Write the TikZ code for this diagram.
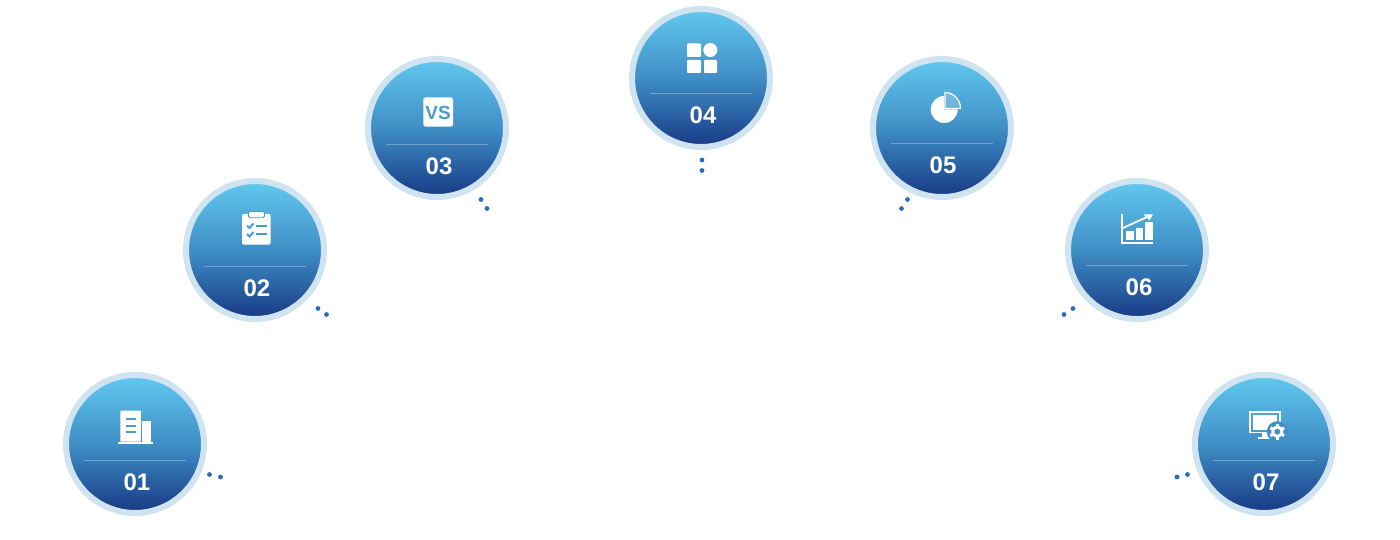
\documentclass[tikz,border=0pt]{standalone}
\usepackage{xcolor}
\usepackage{fontspec}
\setmainfont{Liberation Sans}
\definecolor{ringblue}{HTML}{D0E3F0}
\definecolor{topblue}{HTML}{62C9EF}
\definecolor{midblue}{HTML}{3F8EC6}
\definecolor{lowblue}{HTML}{173984}
\definecolor{iconblue}{HTML}{4A9BD0}
\definecolor{dotblue}{HTML}{2A6BBE}
\tikzset{
  disc/.style={circle, draw=ringblue, line width=6pt, minimum size=138pt, inner sep=0pt,
    top color=topblue, bottom color=lowblue, middle color=midblue},
  num/.style={text=white, font=\fontsize{24}{24}\selectfont\bfseries, inner sep=0pt},
  dot/.style={circle, fill=dotblue, minimum size=4.8pt, inner sep=0pt},
  divider/.style={white, opacity=0.3, line width=1pt},
  icon/.style={fill=white, draw=none},
  iconline/.style={draw=white, line width=1.8pt},
  cut/.style={draw=iconblue, line width=2pt}
}
\begin{document}
\begin{tikzpicture}[x=1pt, y=-1pt]
    \useasboundingbox (0,0) rectangle (1400,540);

    \node[disc](c1) at ( 135,444) {};
    \node[disc](c2) at ( 255,250) {};
    \node[disc](c3) at ( 437,128) {};
    \node[disc](c4) at ( 701, 78) {};
    \node[disc](c5) at ( 942,128) {};
    \node[disc](c6) at (1137,250) {};
    \node[disc](c7) at (1264,444) {};

    \node[num](n1) at ( 137,482) {01};
    \node[num](n2) at ( 257,288) {02};
    \node[num](n3) at ( 439,166) {03};
    \node[num](n4) at ( 703,115) {04};
    \node[num](n5) at ( 943,165) {05};
    \node[num](n6) at (1139,287) {06};
    \node[num](n7) at (1266,482) {07};

    \draw[divider] (84,460.5) -- (186,460.5);
    \draw[divider] (204,266.5) -- (306,266.5);
    \draw[divider] (386,144.5) -- (488,144.5);
    \draw[divider] (650,93.5) -- (752,93.5);
    \draw[divider] (891,143.5) -- (993,143.5);
    \draw[divider] (1086,265.5) -- (1188,265.5);
    \draw[divider] (1213,460.5) -- (1315,460.5);

    \node[dot](d1a) at ( 209.5,474.5) {};
    \node[dot](d1b) at ( 220.5,477) {};
    \node[dot](d2a) at ( 318,308.5) {};
    \node[dot](d2b) at ( 326.5,314.5) {};
    \node[dot](d3a) at ( 481,199.5) {};
    \node[dot](d3b) at ( 487,208.5) {};
    \node[dot](d4a) at ( 702,160) {};
    \node[dot](d4b) at ( 702,170.5) {};
    \node[dot](d5a) at ( 907.5,199.5) {};
    \node[dot](d5b) at ( 901.5,208.5) {};
    \node[dot](d6a) at (1073,308.5) {};
    \node[dot](d6b) at (1064,314.5) {};
    \node[dot](d7a) at (1187.5,474.5) {};
    \node[dot](d7b) at (1177,477) {};

    % 01 building
    \fill[icon, rounded corners=0.8pt] (120.3,441.7) rectangle (140.8,410.7);
    \fill[icon] (142.3,441.7) rectangle (151,420.7);
    \fill[icon] (118,441.7) rectangle (153,444);
    \draw[cut] (126,419.3) -- (136,419.3);
    \draw[cut] (126,425.7) -- (136,425.7);
    \draw[cut] (126,431.7) -- (136,431.7);

    % 02 clipboard
    \fill[icon, rounded corners=2pt] (242,214) rectangle (270.7,244.7);
    \fill[icon, draw=iconblue, line width=0.8pt, rounded corners=1.5pt] (248.5,211.5) rectangle (264.5,217.8);
    \draw[cut] (247,225.5) -- (249.5,228) -- (253.5,223.5);
    \draw[cut] (247,234) -- (249.5,236.5) -- (253.5,232);
    \draw[cut] (256,225.7) -- (266.5,225.7);
    \draw[cut] (256,234.3) -- (266.5,234.3);

    % 03 vs
    \fill[icon, rounded corners=2.5pt] (423.3,97.3) rectangle (453,126.7);
    \node[text=iconblue, inner sep=0pt, font=\fontsize{19}{19}\selectfont\bfseries](vs) at (438,112.5) {VS};

    % 04 blocks
    \fill[icon, rounded corners=0.8pt] (687,43.5) rectangle (701,57);
    \fill[icon] (710.3,50) circle (7);
    \fill[icon, rounded corners=0.8pt] (687,60) rectangle (701,73);
    \fill[icon, rounded corners=0.8pt] (704,60) rectangle (717,73);

    % 05 pie
    \fill[icon] (944.2,109.5) -- (957.7,109.5) arc[start angle=0, end angle=-270, radius=13.5pt] -- cycle;
    \draw[iconline, line width=1.2pt, fill=white, fill opacity=0.2, line join=round]
      (945,108.5) -- (945,92.5) .. controls (954,92.5) and (960.5,100) .. (960.5,108.5) -- cycle;

    % 06 chart
    \draw[iconline] (1122.3,214) -- (1122.3,242.6) -- (1153,242.6);
    \fill[icon] (1125.7,231) rectangle (1134,240);
    \fill[icon] (1135.7,227.7) rectangle (1143.3,240);
    \fill[icon] (1145,222) rectangle (1153.3,240);
    \draw[iconline] (1123,228) -- (1147,217);
    \fill[icon] (1153,214.3) -- (1143.5,214.3) -- (1149.5,220.5) -- cycle;

    % 07 monitor with gear
    \draw[iconline] (1249.9,411.9) rectangle (1279.8,432.5);
    \fill[icon] (1252.5,414.5) rectangle (1277,430);
    \fill[icon] (1261.7,433) rectangle (1268.3,437);
    \fill[icon] (1257.7,437) rectangle (1272.3,439);
    \fill[midblue] (1277.3,431.7) circle (10.5);
    \fill[icon] (1277.3,431.7) circle (6);
    \draw[white, line width=3pt] (1277.3,423.7) -- (1277.3,439.7);
    \draw[white, line width=3pt] (1270.4,427.7) -- (1284.2,435.7);
    \draw[white, line width=3pt] (1270.4,435.7) -- (1284.2,427.7);
    \fill[midblue] (1277.3,431.7) circle (3);
  \end{tikzpicture}
\end{document}
